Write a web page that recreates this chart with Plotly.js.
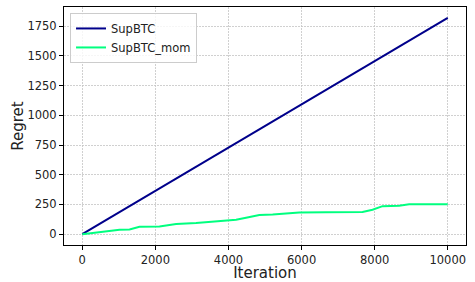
<!DOCTYPE html>
<html>
<head>
<meta charset="utf-8">
<script src="https://cdn.plot.ly/plotly-3.0.1.min.js"></script>
<style>html,body{margin:0;padding:0;background:#fff;}#chart{width:475px;height:282px;}</style>
</head>
<body>
<div id="chart"></div>
<script>
// Series names
const seriesNames = ["SupBTC", "SupBTC_mom"];

// SupBTC: regret grows linearly
const supIter = [0, 9999];
const supRegret = [0, 1820];

// SupBTC_mom
const momIter = [0, 474, 1020, 1293, 1566, 2113, 2568, 3115, 3388, 3661, 3934, 4208, 4481, 4845, 5209, 5938, 6667, 7668, 7942, 8215, 8670, 8943, 9999];
const momRegret = [0, 17, 37, 40, 62, 65, 85, 94, 102, 105, 119, 122, 139, 162, 165, 182, 185, 187, 205, 236, 239, 252, 252];

// Tick values
const xTicks = [0, 2000, 4000, 6000, 8000, 10000];
const yTicks = [0, 250, 500, 750, 1000, 1250, 1500, 1750];

const font = "DejaVu Sans, sans-serif";

const traces = [
  {x: supIter, y: supRegret, name: seriesNames[0], mode: "lines",
   line: {color: "#00008b", width: 2}},
  {x: momIter, y: momRegret, name: seriesNames[1], mode: "lines",
   line: {color: "#00ff7f", width: 2}}
];

const axisCommon = {
  showline: true, mirror: true, linecolor: "#000", linewidth: 1,
  ticks: "outside", ticklen: 4, tickcolor: "#000", tickwidth: 1,
  showgrid: true, gridcolor: "#c4c4c4", griddash: "1.5px,1.5px", gridwidth: 0.8,
  zeroline: false, tickfont: {family: font, size: 11.5, color: "#222"}
};

const layout = {
  width: 475, height: 282,
  margin: {l: 64, r: 9, t: 7, b: 37},
  paper_bgcolor: "#fff", plot_bgcolor: "#fff",
  font: {family: font, color: "#222"},
  xaxis: Object.assign({}, axisCommon, {
    range: [-500, 10499], tickvals: xTicks, ticktext: xTicks.map(String),
    title: {text: "Iteration", font: {family: font, size: 15, color: "#222"}, standoff: 9}
  }),
  yaxis: Object.assign({}, axisCommon, {
    range: [-91, 1911], tickvals: yTicks, ticktext: yTicks.map(String),
    title: {text: "Regret", font: {family: font, size: 15, color: "#222"}, standoff: 0}
  }),
  legend: {
    x: 0.015, y: 0.975, xanchor: "left", yanchor: "top",
    bgcolor: "rgba(255,255,255,0.8)", bordercolor: "#cccccc", borderwidth: 1,
    font: {family: font, size: 11.5, color: "#222"},
    itemwidth: 30, tracegroupgap: 0
  },
  showlegend: true
};

Plotly.newPlot("chart", traces, layout, {staticPlot: true, displayModeBar: false});
</script>
</body>
</html>
